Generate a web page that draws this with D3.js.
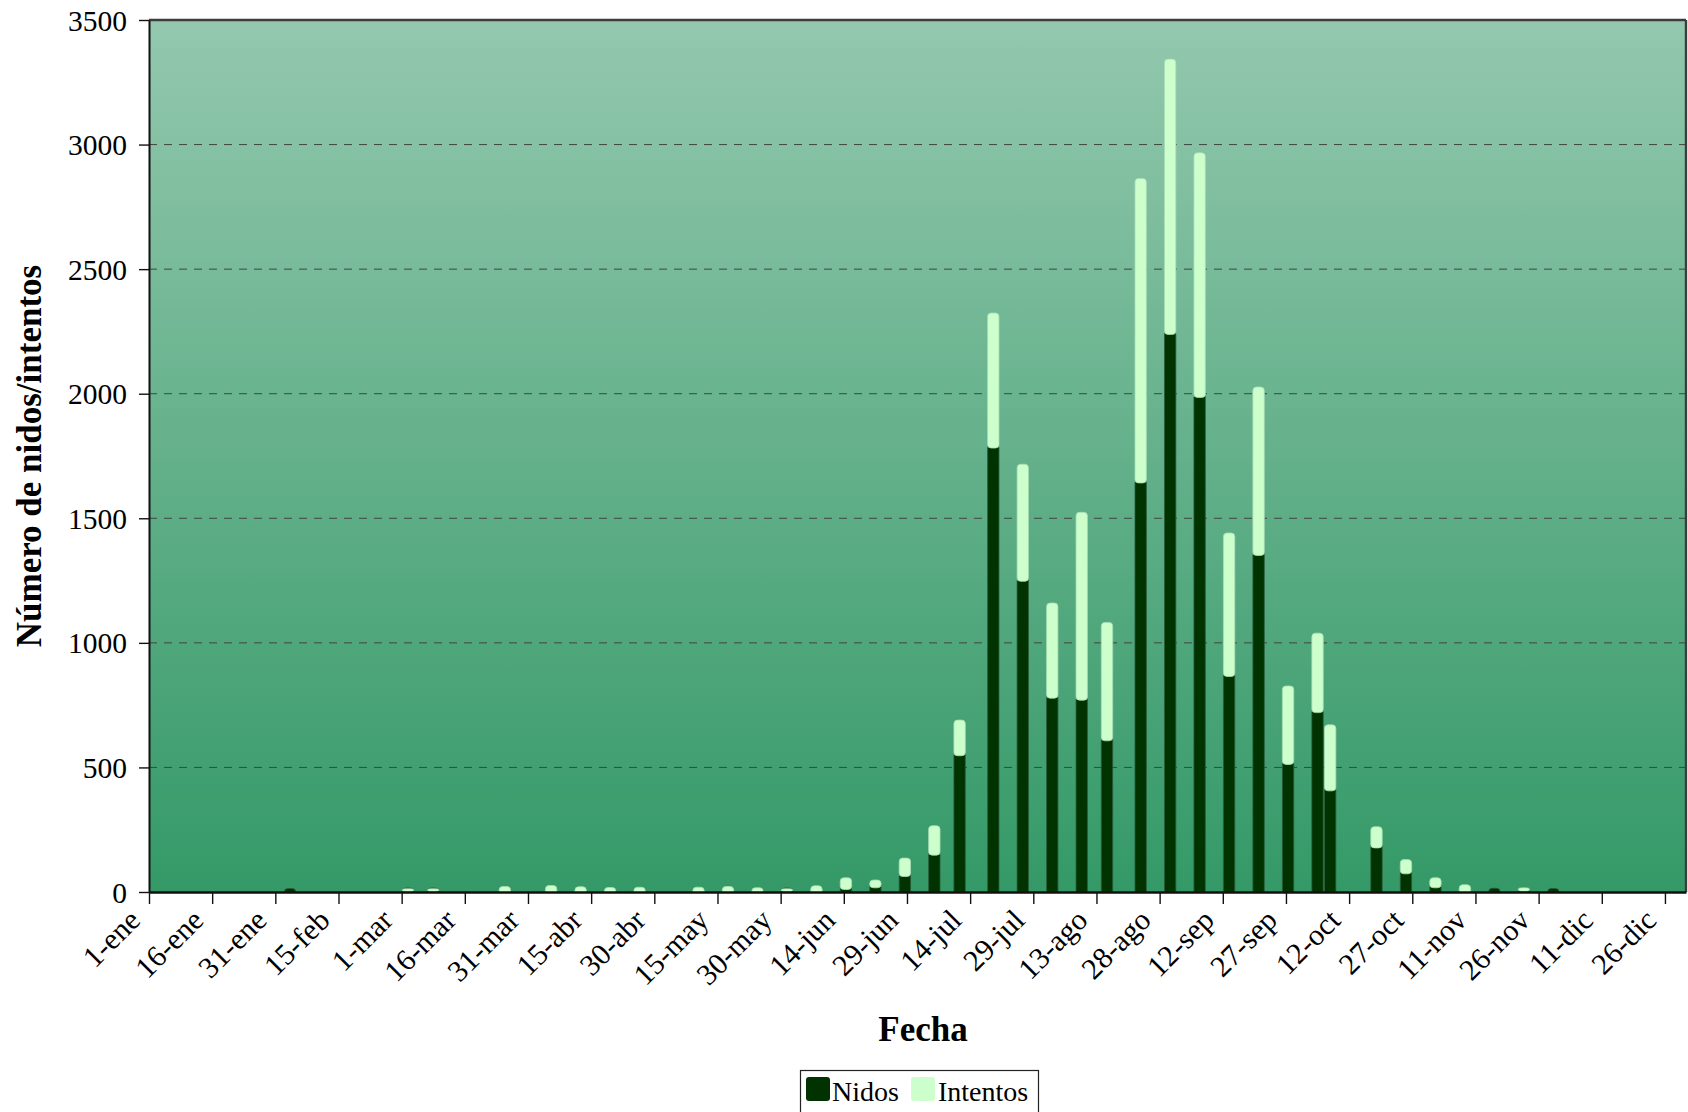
<!DOCTYPE html>
<html><head><meta charset="utf-8">
<script src="https://cdn.jsdelivr.net/npm/d3@7"></script>
<style>
body{margin:0;background:#fff}
svg{display:block}
text{font-family:"Liberation Serif","Times New Roman",serif;fill:#000}
</style>
</head><body>
<svg id="chart" width="1688" height="1112"></svg>
<script>
// ---- data ----
const dates = ["2008-02-03","2008-03-02","2008-03-08","2008-03-25","2008-04-05","2008-04-12","2008-04-19","2008-04-26",
  "2008-05-10","2008-05-17","2008-05-24","2008-05-31","2008-06-07","2008-06-14","2008-06-21","2008-06-28",
  "2008-07-05","2008-07-11","2008-07-19","2008-07-26","2008-08-02","2008-08-09","2008-08-15","2008-08-23",
  "2008-08-30","2008-09-06","2008-09-13","2008-09-20","2008-09-27","2008-10-04","2008-10-07","2008-10-18",
  "2008-10-25","2008-11-01","2008-11-08","2008-11-15","2008-11-22","2008-11-29"];
const nidos = [14,2,2,0,0,0,0,0, 0,0,0,2,0,10,17,62, 148,547,1782,1247,778,770,607,1642,
  2238,1985,865,1351,512,720,406,177, 73,17,0,15,3,14];
const intentos = [0,11,11,22,26,21,18,19, 19,22,17,11,25,47,31,74, 118,143,542,470,382,754,475,1222,
  1105,982,576,676,315,319,265,85, 57,40,29,0,14,0];
const seriesNames = ["Nidos","Intentos"];
const tickDates = ["2008-01-01","2008-01-16","2008-01-31","2008-02-15","2008-03-01","2008-03-16","2008-03-31",
  "2008-04-15","2008-04-30","2008-05-15","2008-05-30","2008-06-14","2008-06-29","2008-07-14","2008-07-29",
  "2008-08-13","2008-08-28","2008-09-12","2008-09-27","2008-10-12","2008-10-27","2008-11-11","2008-11-26",
  "2008-12-11","2008-12-26"];
const tickLabels = ["1-ene","16-ene","31-ene","15-feb","1-mar","16-mar","31-mar","15-abr","30-abr","15-may",
  "30-may","14-jun","29-jun","14-jul","29-jul","13-ago","28-ago","12-sep","27-sep","12-oct","27-oct",
  "11-nov","26-nov","11-dic","26-dic"];
const yTicks = [0,500,1000,1500,2000,2500,3000,3500];
const domainDates = ["2008-01-01","2008-12-31"];
const xTitle = "Fecha";
const yTitle = "Número de nidos/intentos";

// ---- layout ----
const parse = d3.timeParse("%Y-%m-%d");
const L = 149, R = 1686, T = 20, B = 892;
const colors = {Nidos:"#003300", Intentos:"#CCFFCC"};

const svg = d3.select("#chart");
const defs = svg.append("defs");
const grad = defs.append("linearGradient").attr("id","bg").attr("x1",0).attr("y1",0).attr("x2",0).attr("y2",1);
grad.append("stop").attr("offset","0%").attr("stop-color","#93C8AE");
grad.append("stop").attr("offset","100%").attr("stop-color","#349967");
defs.append("clipPath").attr("id","plotclip").append("rect")
  .attr("x",L).attr("y",T).attr("width",R-L).attr("height",B-T);

const x = d3.scaleTime().domain(domainDates.map(parse)).range([L,R]);
const y = d3.scaleLinear().domain([0,3500]).range([B,T]);

svg.append("rect").attr("x",L).attr("y",T).attr("width",R-L).attr("height",B-T).attr("fill","url(#bg)");

// gridlines
svg.append("g").selectAll("line").data(yTicks.filter(v=>v>0 && v<3500)).join("line")
  .attr("x1",L).attr("x2",R).attr("y1",d=>y(d)).attr("y2",d=>y(d))
  .attr("stroke","#444").attr("stroke-width",1).attr("stroke-dasharray","8,7");

// bars
const table = dates.map((d,i)=>({date:parse(d), Nidos:nidos[i], Intentos:intentos[i]}));
const stacked = d3.stack().keys(seriesNames)(table);
const pxDay = x(d3.timeDay.offset(parse(domainDates[0]),1)) - x(parse(domainDates[0]));
const bw = pxDay*2.7;
const r = 3.5;
const gBars = svg.append("g").attr("clip-path","url(#plotclip)");
stacked.forEach((s,si)=>{
  gBars.append("g").selectAll("rect").data(s.filter(d=>d[1]-d[0]>0)).join("rect")
    .attr("x",d=>x(d.data.date)+pxDay/2-bw/2)
    .attr("width",bw)
    .attr("y",d=>{
      let yy = y(d[1]);
      if(si===0 && d.data.Intentos>0) yy -= r;
      return yy;
    })
    .attr("height",d=>{
      let top = y(d[1]);
      if(si===0 && d.data.Intentos>0) top -= r;
      let bottom = y(d[0]);
      if(d[0]===0) bottom += r;
      return Math.max(0,bottom-top);
    })
    .attr("rx",r).attr("ry",r)
    .attr("fill",colors[s.key])
    .attr("stroke", si===0 ? "#2c5a3c" : "#a9dcb4")
    .attr("stroke-width",0.8);
});

// borders
svg.append("line").attr("x1",L).attr("x2",R).attr("y1",T).attr("y2",T).attr("stroke","#3c3c3c").attr("stroke-width",2.4);
svg.append("line").attr("x1",R).attr("x2",R).attr("y1",T).attr("y2",B).attr("stroke","#3c3c3c").attr("stroke-width",2.4);

// y axis
const yAxis = svg.append("g").attr("transform",`translate(${L},0)`)
  .call(d3.axisLeft(y).tickValues(yTicks).tickSize(10).tickSizeOuter(0).tickPadding(12).tickFormat(d3.format("d")));
yAxis.select(".domain").attr("stroke","#111").attr("stroke-width",2);
yAxis.selectAll(".tick line").attr("stroke","#111").attr("stroke-width",1.4);
yAxis.selectAll(".tick text").attr("font-size","29.5px").attr("fill","#000")
  .attr("font-family",'"Liberation Serif","Times New Roman",serif').attr("dy","0.34em");

// x axis
const xAxis = svg.append("g").attr("transform",`translate(0,${B})`)
  .call(d3.axisBottom(x).tickValues(tickDates.map(parse)).tickSize(12).tickSizeOuter(0).tickFormat(""));
xAxis.select(".domain").attr("stroke","#111").attr("stroke-width",2.4);
xAxis.selectAll(".tick line").attr("stroke","#111").attr("stroke-width",1.4);
svg.append("g").selectAll("text").data(tickDates).join("text")
  .attr("transform",(d)=>`translate(${x(parse(d))-7},${B+30}) rotate(-45)`)
  .attr("text-anchor","end")
  .attr("font-size","30px")
  .text((d,i)=>tickLabels[i]);

// titles
svg.append("text").attr("x",923).attr("y",1041).attr("text-anchor","middle")
  .attr("font-size","35px").attr("font-weight","bold").text(xTitle);
svg.append("text").attr("transform","translate(41,456) rotate(-90)").attr("text-anchor","middle")
  .attr("font-size","35px").attr("font-weight","bold").text(yTitle);

// legend
const lg = svg.append("g");
lg.append("rect").attr("x",800.5).attr("y",1070.5).attr("width",238).attr("height",60)
  .attr("fill","#fff").attr("stroke","#222").attr("stroke-width",1.2);
const legendPos = [{sx:806, tx:832},{sx:911, tx:938}];
seriesNames.forEach((k,i)=>{
  lg.append("rect").attr("x",legendPos[i].sx).attr("y",1077).attr("width",24).attr("height",24)
    .attr("rx",3).attr("fill",colors[k]);
  lg.append("text").attr("x",legendPos[i].tx).attr("y",1101).attr("font-size","28px").text(k);
});
</script>
</body></html>
